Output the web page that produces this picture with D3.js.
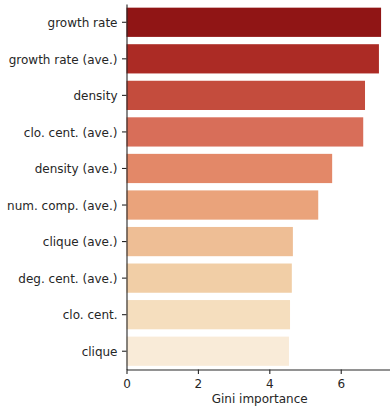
<!DOCTYPE html>
<html>
<head>
<meta charset="utf-8">
<script src="https://cdn.jsdelivr.net/npm/d3@7"></script>
<style>
    body { margin: 0; background: #fff; }
    svg { display: block; font-family: "DejaVu Sans", sans-serif; }
</style>
</head>
<body>
<svg id="my-svg" width="390" height="410"></svg>
<script>
const features = ['growth rate', 'growth rate (ave.)', 'density', 'clo. cent. (ave.)', 'density (ave.)',
                  'num. comp. (ave.)', 'clique (ave.)', 'deg. cent. (ave.)', 'clo. cent.', 'clique'];
const importance = [7.13, 7.07, 6.68, 6.63, 5.76, 5.37, 4.66, 4.63, 4.58, 4.55];
const xTicks = [0, 2, 4, 6];
const xLabel = 'Gini importance';

const svg = d3.select('svg');
const svgElement = document.getElementById('my-svg');
const svgWidth = svgElement.clientWidth;
const svgHeight = svgElement.clientHeight;
const textColor = '#262626';

// matplotlib OrRd anchors, sampled like seaborn does, then desaturated to 0.75
const orRd = ['#fff7ec', '#fee8c8', '#fdd49e', '#fdbb84', '#fc8d59', '#ef6548', '#d7301f', '#b30000', '#7f0000'];
const orRdInterp = d3.scaleLinear()
                     .domain(d3.range(orRd.length).map((i) => i / (orRd.length - 1)))
                     .range(orRd)
                     .interpolate(d3.interpolateRgb);
const palette = features.map((d, i) => {
    const c = d3.hsl(orRdInterp(1 - (i + 1) / (features.length + 1)));
    c.s *= 0.75;
    return c.formatHex();
});

const renderBarChart = () => {
    const margin = {top: 4, right: 0, bottom: 40.5, left: 126.5};
    const innerWidth = svgWidth - margin.left - margin.right;
    const innerHeight = svgHeight - margin.top - margin.bottom;

    const xScale = d3.scaleLinear()
                     .domain([0, 7.38])
                     .range([0, innerWidth]);

    const yScale = d3.scaleBand()
                     .domain(features)
                     .range([0, innerHeight])
                     .paddingInner(0.2)
                     .paddingOuter(0.1);

    const g = svg.append('g')
                 .attr('transform', `translate(${margin.left}, ${margin.top})`);

    g.selectAll('rect').data(features)
        .enter()
        .append('rect')
        .attr('x', 0)
        .attr('y', (d) => yScale(d))
        .attr('width', (d, i) => xScale(importance[i]))
        .attr('height', yScale.bandwidth())
        .attr('fill', (d, i) => palette[i]);

    const xAxis = d3.axisBottom(xScale).tickValues(xTicks).tickSize(4.5).tickPadding(5).tickSizeOuter(0);
    const yAxis = d3.axisLeft(yScale).tickSize(4.5).tickPadding(4.5).tickSizeOuter(0);

    const xAxisGroup = g.append('g').call(xAxis)
                        .attr('transform', `translate(0, ${innerHeight})`);
    const yAxisGroup = g.append('g').call(yAxis);

    [xAxisGroup, yAxisGroup].forEach((ax) => {
        ax.select('.domain').attr('stroke', textColor).attr('stroke-width', 1.1);
        ax.selectAll('.tick line').attr('stroke', textColor).attr('stroke-width', 1.1);
        ax.selectAll('.tick text')
          .attr('fill', textColor)
          .attr('font-size', 12)
          .attr('font-family', '"DejaVu Sans", sans-serif');
    });
    yAxisGroup.selectAll('.tick text').attr('dy', '0.4em');

    svg.append('text')
        .attr('x', margin.left + xScale(3.73))
        .attr('y', 403)
        .attr('fill', textColor)
        .attr('font-size', 12)
        .attr('text-anchor', 'middle')
        .text(xLabel);
};

renderBarChart();
</script>
</body>
</html>
